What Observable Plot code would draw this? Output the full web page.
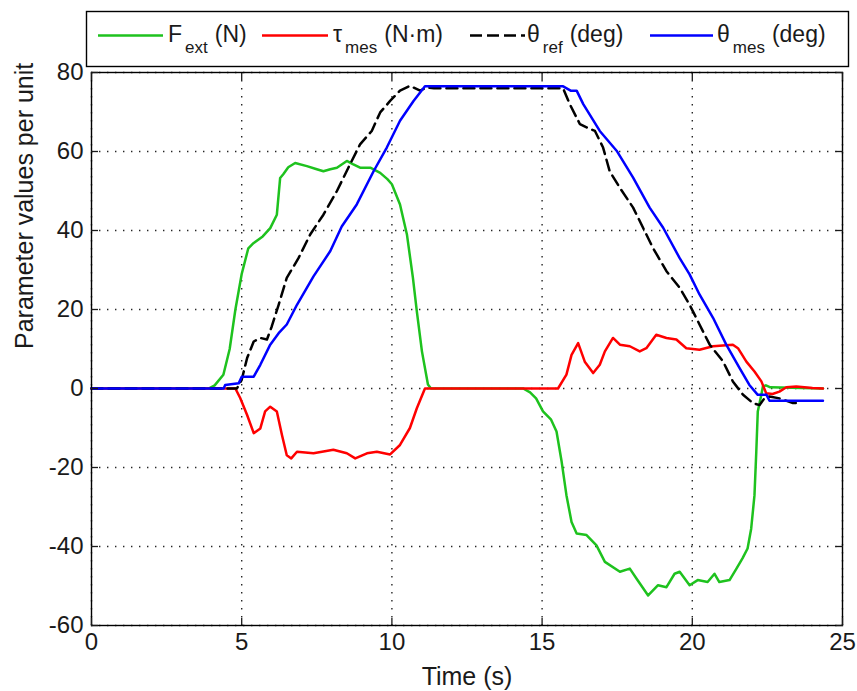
<!DOCTYPE html>
<html><head><meta charset="utf-8">
<script src="https://cdn.jsdelivr.net/npm/d3@7"></script>
<script src="https://cdn.jsdelivr.net/npm/@observablehq/plot@0.6"></script>
<style>
html,body{margin:0;padding:0;background:#fff;}
#wrap{position:relative;width:857px;height:691px;overflow:hidden;background:#fff;}
#legend{position:absolute;left:0;top:0;}
</style></head><body><div id="wrap"></div>
<script>
// ---- data ----
const xTicks = [0, 5, 10, 15, 20, 25];
const yTicks = [-60, -40, -20, 0, 20, 40, 60, 80];
const xLabel = "Time (s)";
const yLabel = "Parameter values per unit";

// F_ext (N)
const tF = [0, 3.9, 4.1, 4.39, 4.6, 4.79, 5.0, 5.22, 5.39, 5.7, 5.95, 6.17, 6.28, 6.39, 6.55, 6.78, 7.17, 7.5, 7.72, 7.95, 8.17, 8.5, 8.7, 8.94, 9.28, 9.61, 9.85, 10.0, 10.27, 10.5, 10.7, 10.83, 11.0, 11.2, 11.3, 14.2, 14.37, 14.6, 14.8, 15.03, 15.3, 15.48, 15.65, 15.81, 15.98, 16.15, 16.48, 16.81, 17.09, 17.59, 17.92, 18.14, 18.53, 18.86, 19.14, 19.41, 19.58, 19.91, 20.18, 20.51, 20.74, 20.9, 21.24, 21.47, 21.67, 21.84, 21.96, 22.07, 22.13, 22.18, 22.3, 22.35, 22.45, 22.6, 24.35];
const vF = [0, 0, 0.8, 3.5, 10, 20, 29, 35.5, 36.8, 38.5, 40.6, 44, 53.3, 54.3, 56, 57.1, 56.3, 55.5, 55, 55.5, 55.9, 57.6, 56.8, 55.9, 55.9, 54.6, 53, 51.7, 46.6, 39, 28, 19.5, 9.4, 1, 0, 0, 0, -1, -2.5, -5.8, -7.9, -10.9, -18.5, -27, -33.8, -36.7, -37.1, -39.7, -43.9, -46.4, -45.6, -48.1, -52.4, -49.8, -50.3, -46.9, -46.4, -49.8, -48.5, -49, -46.9, -49, -48.5, -45.6, -43, -40.5, -35.5, -27, -16, -5.8, -1.5, 0.5, 0.8, 0.3, 0];

// tau_mes (N.m)
const tTau = [0, 4.79, 4.95, 5.18, 5.4, 5.62, 5.78, 5.95, 6.17, 6.34, 6.5, 6.65, 6.84, 7.39, 8.05, 8.5, 8.78, 9.17, 9.5, 9.94, 10.27, 10.6, 10.83, 11.1, 15.53, 15.81, 15.98, 16.2, 16.42, 16.7, 16.92, 17.09, 17.36, 17.59, 17.92, 18.25, 18.47, 18.8, 19.14, 19.47, 19.8, 20.24, 20.69, 21.35, 21.52, 21.8, 22.07, 22.3, 22.46, 22.67, 22.9, 23.13, 23.46, 24.0, 24.35];
const vTau = [0, 0, -2.4, -6.7, -11.3, -10.1, -5.8, -4.6, -5.8, -11.8, -16.9, -17.7, -16, -16.4, -15.5, -16.4, -17.7, -16.4, -16, -16.7, -14.3, -10, -5, 0, 0, 3.5, 8.5, 11.5, 6.8, 3.9, 6, 9.4, 12.8, 11.1, 10.7, 9.4, 10.2, 13.6, 12.8, 12.4, 10.2, 9.8, 10.7, 11.1, 10.2, 6.8, 4.3, 1.8, -1.2, -1.4, -0.8, 0.3, 0.5, 0.1, 0];

// theta_ref (deg)
const tRef = [0, 4.84, 5.0, 5.18, 5.4, 5.62, 5.84, 6.0, 6.23, 6.5, 6.89, 7.28, 7.72, 8.17, 8.55, 8.94, 9.33, 9.61, 9.94, 10.27, 10.6, 10.94, 11.16, 11.4, 15.7, 15.92, 16.26, 16.48, 16.76, 17.03, 17.25, 17.59, 18.03, 18.36, 18.69, 19.14, 19.58, 19.91, 20.24, 20.58, 21.02, 21.35, 21.69, 22.02, 22.24, 22.4, 22.57, 22.9, 23.35, 23.6];
const vRef = [0, 0, 2.2, 7.7, 11.9, 12.8, 12.4, 15.7, 21.2, 28, 33, 39, 44, 50, 55.9, 61.8, 65.2, 69.9, 72.8, 75.4, 76.6, 75.4, 76.2, 76.0, 76.0, 72, 66.9, 66.1, 65.2, 61, 55, 50.8, 45.8, 40.7, 35.6, 29.7, 25.5, 21.2, 16.2, 11.1, 6.9, 1.8, -1.6, -3.7, -4.2, -2.5, -2.0, -2.5, -3.7, -3.7];

// theta_mes (deg)
const tMes = [0, 4.4, 4.45, 4.9, 5.0, 5.4, 5.62, 5.95, 6.23, 6.5, 6.84, 7.39, 7.95, 8.33, 8.83, 9.39, 9.83, 10.27, 10.72, 11.1, 15.7, 15.95, 16.15, 16.37, 16.92, 17.48, 18.03, 18.58, 19.03, 19.58, 19.91, 20.24, 20.69, 21.13, 21.57, 21.9, 22.18, 22.47, 22.57, 24.35];
const vMes = [0, 0, 0.9, 1.3, 3, 3, 6, 11.1, 14, 16.2, 21.2, 28.4, 34.8, 41, 46.6, 55, 61, 67.8, 72.8, 76.5, 76.5, 75.4, 75.4, 72, 65.2, 60.2, 53.4, 45.8, 40.7, 33, 28.9, 23.8, 17.9, 11.1, 5.2, 0.9, -1.6, -1.6, -3.1, -3.1];

const seriesNames = ["F", "τ", "θ", "θ"];
const seriesSubs = ["ext", "mes", "ref", "mes"];
const seriesUnits = ["(N)", "(N·m)", "(deg)", "(deg)"];
const seriesColors = ["#1ec21e", "#ff0000", "#000000", "#0000ff"];

// ---- build tables ----
const zip = (t, v) => t.map((x, i) => ({t: x, v: v[i]}));
const dF = zip(tF, vF), dTau = zip(tTau, vTau), dRef = zip(tRef, vRef), dMes = zip(tMes, vMes);

const FONT = "'Liberation Sans', Arial, sans-serif";
const LW = 2.5;
const TXT = "#1a1a1a";

const chart = Plot.plot({
  width: 857, height: 691,
  marginLeft: 91, marginRight: 15, marginTop: 72, marginBottom: 66,
  style: {fontFamily: FONT, fontSize: "24px", color: TXT, background: "#fff"},
  x: {domain: [0, 25]},
  y: {domain: [-60, 80]},
  marks: [
    Plot.gridX(xTicks, {stroke: "#000", strokeOpacity: 0.85, strokeWidth: 1.4, strokeDasharray: "1.4,6.6"}),
    Plot.gridY(yTicks, {stroke: "#000", strokeOpacity: 0.85, strokeWidth: 1.4, strokeDasharray: "1.4,6.6"}),
    Plot.line(dF, {x: "t", y: "v", stroke: seriesColors[0], strokeWidth: LW}),
    Plot.line(dTau, {x: "t", y: "v", stroke: seriesColors[1], strokeWidth: LW}),
    Plot.line(dRef, {x: "t", y: "v", stroke: seriesColors[2], strokeWidth: LW, strokeDasharray: "11,6"}),
    Plot.line(dMes, {x: "t", y: "v", stroke: seriesColors[3], strokeWidth: LW}),
    Plot.frame({stroke: "#000", strokeWidth: 1.4}),
    Plot.axisX(xTicks, {anchor: "bottom", tickSize: -7, tickPadding: 14, tickFormat: d => String(d), label: null, strokeWidth: 1.3}),
    Plot.axisX(xTicks, {anchor: "top", tickSize: -7, tickFormat: () => "", label: null, strokeWidth: 1.3}),
    Plot.axisY(yTicks, {anchor: "left", tickSize: -7, tickPadding: 15, tickFormat: d => String(d), label: null, strokeWidth: 1.3}),
    Plot.axisY(yTicks, {anchor: "right", tickSize: -7, tickFormat: () => "", label: null, strokeWidth: 1.3}),
    Plot.text([xLabel], {text: d => d, frameAnchor: "bottom", dy: 59, fontSize: 25}),
    Plot.text([yLabel], {text: d => d, frameAnchor: "left", dx: -67, rotate: -90, fontSize: 25})
  ]
});
document.getElementById("wrap").appendChild(chart);

// ---- legend ----
const lg = d3.select("#wrap").append("svg").attr("id", "legend")
  .attr("width", 857).attr("height", 70).style("font-family", FONT);
lg.append("rect").attr("x", 86.5).attr("y", 11.5).attr("width", 762).attr("height", 55)
  .attr("fill", "#fff").attr("stroke", "#000").attr("stroke-width", 1.4);
const layout = [
  {x0: 98, x1: 163, sx: 168},
  {x0: 262, x1: 328, sx: 333},
  {x0: 470, x1: 525, sx: 527},
  {x0: 650, x1: 713, sx: 717}
];
seriesNames.forEach((nm, i) => {
  const L = layout[i];
  lg.append("line").attr("x1", L.x0).attr("x2", L.x1).attr("y1", 35.5).attr("y2", 35.5)
    .attr("stroke", seriesColors[i]).attr("stroke-width", LW)
    .attr("stroke-dasharray", i === 2 ? "12,5" : null);
  const t = lg.append("text").attr("x", L.sx).attr("y", 42).attr("font-size", 23).attr("fill", TXT);
  t.append("tspan").text(nm);
  t.append("tspan").attr("dx", 3).attr("dy", 11).attr("font-size", 17).text(seriesSubs[i]);
  t.append("tspan").attr("dx", 7).attr("dy", -11).text(seriesUnits[i]);
});
</script></body></html>
